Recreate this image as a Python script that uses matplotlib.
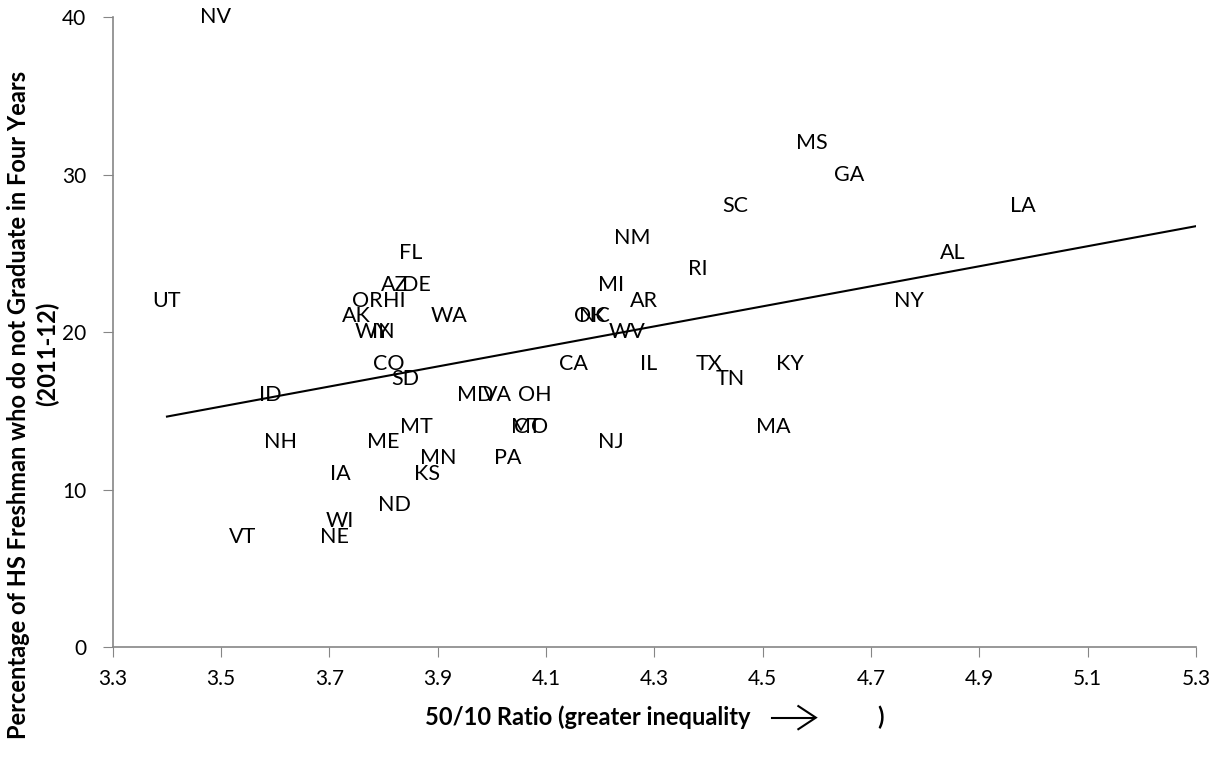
import numpy as np
import matplotlib.pyplot as plt

plt.rcParams['font.family'] = ['Lato', 'DejaVu Sans']

# state, 50/10 ratio, % not graduating in four years
states = ['NV', 'UT', 'MS', 'GA', 'SC', 'LA', 'NM', 'FL', 'RI', 'AL',
          'AZ', 'DE', 'MI', 'AR', 'NY', 'OR', 'HI', 'AK', 'WA', 'OK',
          'NC', 'WV', 'WY', 'IN', 'CA', 'IL', 'TX', 'TN', 'KY', 'CO',
          'SD', 'ID', 'MD', 'VA', 'OH', 'MO', 'CT', 'MA', 'NJ', 'NH',
          'ME', 'MT', 'MN', 'KS', 'IA', 'PA', 'ND', 'WI', 'NE', 'VT']
ratio = [3.49, 3.40, 4.59, 4.66, 4.45, 4.98, 4.26, 3.85, 4.38, 4.85,
         3.82, 3.86, 4.22, 4.28, 4.77, 3.77, 3.82, 3.75, 3.92, 4.18,
         4.19, 4.25, 3.78, 3.80, 4.15, 4.29, 4.40, 4.44, 4.55, 3.81,
         3.84, 3.59, 3.97, 4.01, 4.08, 4.07, 4.065, 4.52, 4.22, 3.61,
         3.80, 3.86, 3.90, 3.88, 3.72, 4.03, 3.82, 3.72, 3.71, 3.54]
not_grad = [40, 22, 32, 30, 28, 28, 26, 25, 24, 25,
            23, 23, 23, 22, 22, 22, 22, 21, 21, 21,
            21, 20, 20, 20, 18, 18, 18, 17, 18, 18,
            17, 16, 16, 16, 16, 14, 14, 14, 13, 13,
            13, 14, 12, 11, 11, 12, 9, 8, 7, 7]

fig = plt.figure(figsize=(12.25, 7.57), dpi=100)
ax = fig.add_axes([0.0921, 0.1453, 0.8842, 0.8322])

for s, x, y in zip(states, ratio, not_grad):
    ax.text(x, y, s, ha='center', va='center', fontsize=15.5, color='black')

# linear trend line
m, b = np.polyfit(ratio, not_grad, 1)
xs = np.array([min(ratio), 5.3])
ax.plot(xs, m * xs + b, color='black', lw=1.5)

ax.set_xlim(3.3, 5.3)
ax.set_ylim(0, 40)
ax.set_xticks(np.arange(3.3, 5.31, 0.2))
ax.set_xticklabels(['%.1f' % v for v in np.arange(3.3, 5.31, 0.2)])
ax.set_yticks([0, 10, 20, 30, 40])

for side in ['top', 'right']:
    ax.spines[side].set_visible(False)
for side in ['left', 'bottom']:
    ax.spines[side].set_color('#868686')
    ax.spines[side].set_linewidth(1.2)
ax.tick_params(direction='out', length=7, color='#868686', labelsize=15,
               labelcolor='black')
ax.tick_params(axis='x', pad=9)
ax.tick_params(axis='y', pad=12)

# y axis title, two lines
fig.text(0.0155, 0.465, 'Percentage of HS Freshman who do not Graduate in Four Years',
         rotation=90, fontsize=17, fontweight='bold', ha='center', va='center')
fig.text(0.039, 0.533, '(2011-12)', rotation=90, fontsize=17, fontweight='bold',
         ha='center', va='center')

# x axis title with arrow
fig.text(0.347, 0.053, '50/10 Ratio (greater inequality', fontsize=17,
         fontweight='bold', ha='left', va='center')
fig.text(0.716, 0.053, ')', fontsize=17, fontweight='bold', ha='left', va='center')
fig.add_artist(plt.Line2D([0.630, 0.664], [0.052, 0.052], color='black', lw=1.5))
fig.patches.append(plt.Polygon([[0.651, 0.068], [0.666, 0.052], [0.651, 0.036]],
                               closed=False, fill=False, edgecolor='black', lw=1.5,
                               transform=fig.transFigure, figure=fig))

fig.savefig('out.png', dpi=100)
